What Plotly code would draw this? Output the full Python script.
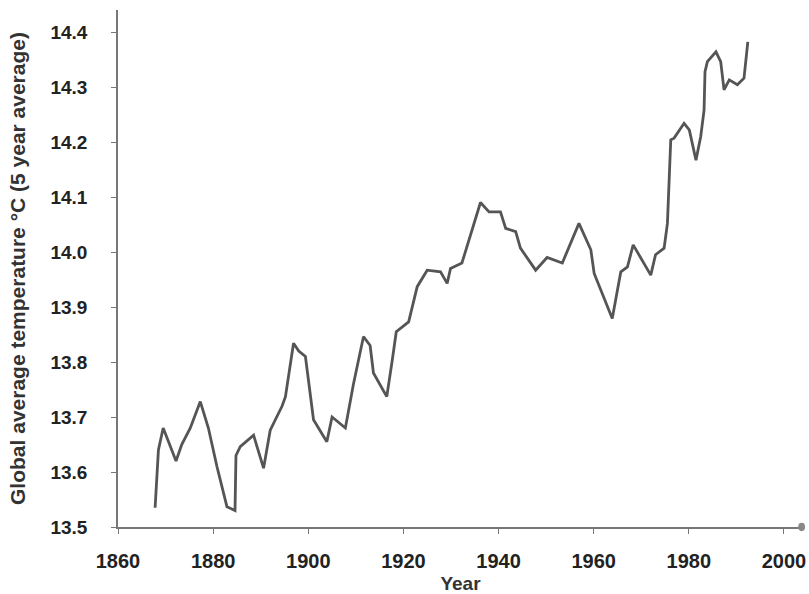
import plotly.graph_objects as go

years = [1867.8, 1868.5, 1869.5, 1872.2, 1873.4, 1875.2, 1877.3, 1879.0, 1880.8, 1882.9,
         1884.6, 1884.8, 1885.7, 1888.5, 1890.6, 1892.0, 1894.5, 1895.2, 1896.9, 1898.0,
         1899.4, 1901.1, 1903.9, 1905.0, 1907.8, 1909.5, 1911.6, 1913.0, 1913.7, 1916.5,
         1917.6, 1918.5, 1921.1, 1922.9, 1925.0, 1927.8, 1929.2, 1929.9, 1932.3, 1934.5,
         1936.2, 1938.0, 1940.4, 1941.5, 1943.6, 1944.6, 1947.8, 1950.2, 1953.4, 1956.9,
         1959.4, 1960.1, 1963.9, 1965.7, 1967.1, 1968.3, 1972.0, 1973.0, 1974.8, 1975.5,
         1975.8, 1976.2, 1976.9, 1979.0, 1980.1, 1981.5, 1982.5, 1983.2, 1983.4, 1983.9,
         1985.7, 1986.7, 1987.4, 1988.5, 1990.2, 1991.6, 1992.4]
temps = [13.535, 13.64, 13.68, 13.62, 13.65, 13.68, 13.728, 13.68, 13.61, 13.537,
         13.53, 13.63, 13.646, 13.667, 13.607, 13.676, 13.72, 13.737, 13.834, 13.82,
         13.81, 13.695, 13.655, 13.70, 13.68, 13.76, 13.846, 13.83, 13.78, 13.737,
         13.80, 13.855, 13.873, 13.937, 13.967, 13.964, 13.943, 13.97, 13.98, 14.04,
         14.09, 14.073, 14.073, 14.043, 14.037, 14.007, 13.967, 13.99, 13.98, 14.052,
         14.004, 13.961, 13.879, 13.964, 13.973, 14.013, 13.958, 13.995, 14.007, 14.052,
         14.125, 14.204, 14.207, 14.234, 14.222, 14.167, 14.21, 14.258, 14.328, 14.346,
         14.364, 14.346, 14.295, 14.313, 14.304, 14.316, 14.382]

x_ticks = [1860, 1880, 1900, 1920, 1940, 1960, 1980, 2000]
y_ticks = [13.5, 13.6, 13.7, 13.8, 13.9, 14.0, 14.1, 14.2, 14.3, 14.4]
y_tick_labels = ["13.5", "13.6", "13.7", "13.8", "13.9", "14.0", "14.1", "14.2", "14.3", "14.4"]

FONT = "Liberation Sans, Arial, sans-serif"

fig = go.Figure()
fig.add_trace(go.Scatter(
    x=years, y=temps, mode="lines",
    line=dict(color="#555555", width=2.8),
    hoverinfo="x+y", showlegend=False,
))

fig.update_layout(
    width=809, height=594,
    margin=dict(l=118, r=6, t=10, b=67, autoexpand=False),
    paper_bgcolor="white", plot_bgcolor="white",
    font=dict(family=FONT, color="#222", size=18),
    xaxis=dict(
        range=[1860, 2004], tickvals=x_ticks,
        showgrid=False, zeroline=False, automargin=False,
        showline=True, linecolor="#777", linewidth=1.5,
        ticks="outside", ticklen=5, tickcolor="#777",
        ticklabelstandoff=10,
        tickfont=dict(family=FONT, size=20, color="#222", weight="bold"),
        title=dict(text="<b>Year</b>", font=dict(size=19, color="#333"), standoff=6),
    ),
    yaxis=dict(
        range=[13.5, 14.44], tickvals=y_ticks, ticktext=y_tick_labels,
        showgrid=False, zeroline=False, automargin=False,
        showline=True, linecolor="#777", linewidth=1.5,
        ticks="outside", ticklen=5, tickcolor="#777",
        ticklabelstandoff=20,
        tickfont=dict(family=FONT, size=19, color="#222", weight="bold"),
        title=dict(text="<b>Global average temperature °C (5 year average)</b>",
                   font=dict(size=21, color="#333"), standoff=19),
    ),
    shapes=[dict(type="circle", xref="paper", yref="paper",
                 x0=0.993, x1=1.003, y0=-0.008, y1=0.008,
                 fillcolor="#888", line=dict(width=0))],
)

fig.write_html(
    "out.html",
    config={"displayModeBar": False},
    post_script="document.body.style.margin='0';document.body.style.overflow='hidden';",
)
